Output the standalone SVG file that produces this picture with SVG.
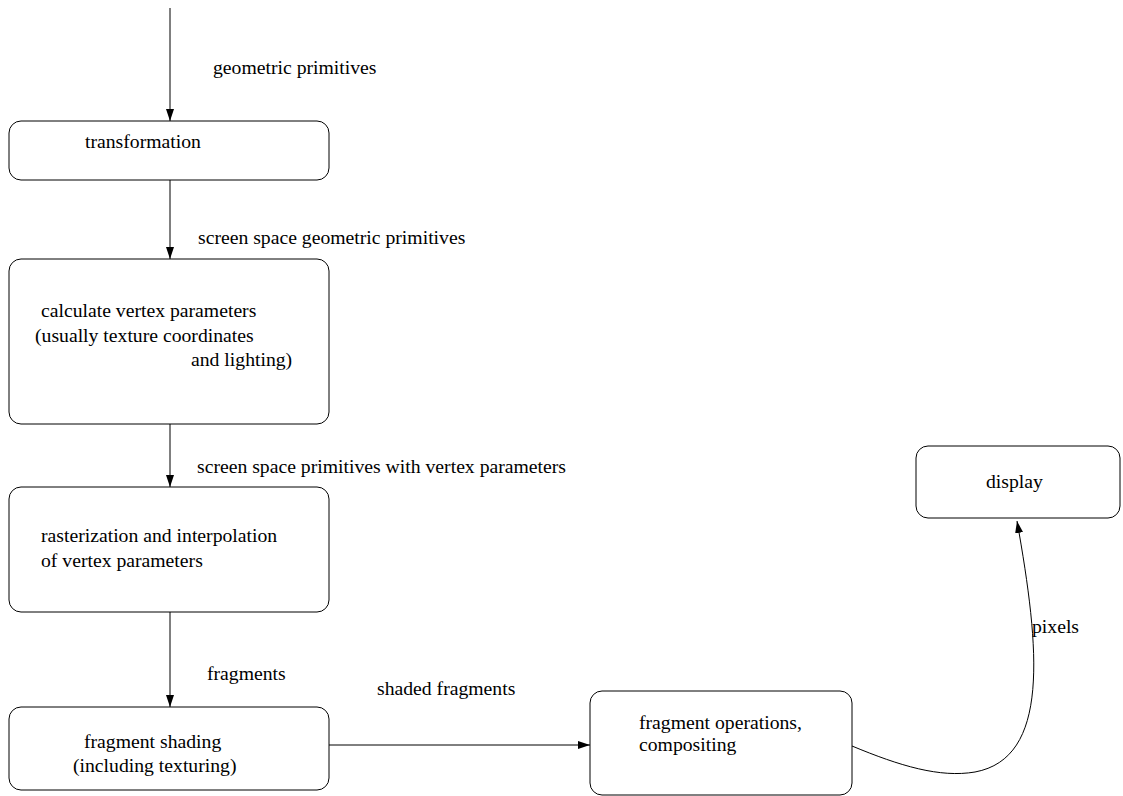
<svg xmlns="http://www.w3.org/2000/svg" width="1123" height="796" viewBox="0 0 1123 796">
  <style>
    .box { fill: #ffffff; stroke: #000000; stroke-width: 1; }
    .edge { fill: none; stroke: #000000; stroke-width: 1; }
    text { font-family: "Liberation Serif", "Times New Roman", "DejaVu Serif", serif; font-size: 19.7px; fill: #000000; }
  </style>
  <defs>
    <marker id="arrow" viewBox="0 0 12 8" refX="12" refY="4" markerWidth="12" markerHeight="8" markerUnits="userSpaceOnUse" orient="auto">
      <path d="M0,0 L12,4 L0,8 Z" fill="#000000"/>
    </marker>
  </defs>
  <rect width="1123" height="796" fill="#ffffff"/>

  <g id="connectors">
    <line class="edge" x1="170" y1="8" x2="170" y2="121" marker-end="url(#arrow)"/>
    <line class="edge" x1="170" y1="180" x2="170" y2="259" marker-end="url(#arrow)"/>
    <line class="edge" x1="170" y1="424" x2="170" y2="487" marker-end="url(#arrow)"/>
    <line class="edge" x1="170" y1="612" x2="170" y2="707" marker-end="url(#arrow)"/>
    <line class="edge" x1="329" y1="745" x2="590" y2="745" marker-end="url(#arrow)"/>
    <path class="edge" d="M852,746 C900,766 940,778 975,772 C1050,758 1040,650 1017,521" marker-end="url(#arrow)"/>
    <text x="213" y="74">geometric primitives</text>
    <text x="198" y="244">screen space geometric primitives</text>
    <text x="197" y="473">screen space primitives with vertex parameters</text>
    <text x="207" y="680">fragments</text>
    <text x="377" y="695">shaded fragments</text>
    <text x="1032" y="633">pixels</text>
  </g>

  <g id="transformation">
    <rect class="box" x="9" y="121" width="320" height="59" rx="12" ry="12"/>
    <text x="85" y="148">transformation</text>
  </g>

  <g id="vertex-parameters">
    <rect class="box" x="9" y="259" width="320" height="165" rx="12" ry="12"/>
    <text x="41" y="317">calculate vertex parameters</text>
    <text x="35" y="342">(usually texture coordinates</text>
    <text x="191" y="366">and lighting)</text>
  </g>

  <g id="rasterization">
    <rect class="box" x="9" y="487" width="320" height="125" rx="12" ry="12"/>
    <text x="41" y="542">rasterization and interpolation</text>
    <text x="41" y="567">of vertex parameters</text>
  </g>

  <g id="fragment-shading">
    <rect class="box" x="9" y="707" width="320" height="83" rx="12" ry="12"/>
    <text x="84" y="748">fragment shading</text>
    <text x="73" y="772">(including texturing)</text>
  </g>

  <g id="fragment-operations">
    <rect class="box" x="590" y="691" width="262" height="104" rx="12" ry="12"/>
    <text x="639" y="729">fragment operations,</text>
    <text x="639" y="751">compositing</text>
  </g>

  <g id="display">
    <rect class="box" x="916" y="446" width="204" height="72" rx="12" ry="12"/>
    <text x="986" y="488">display</text>
  </g>
</svg>
